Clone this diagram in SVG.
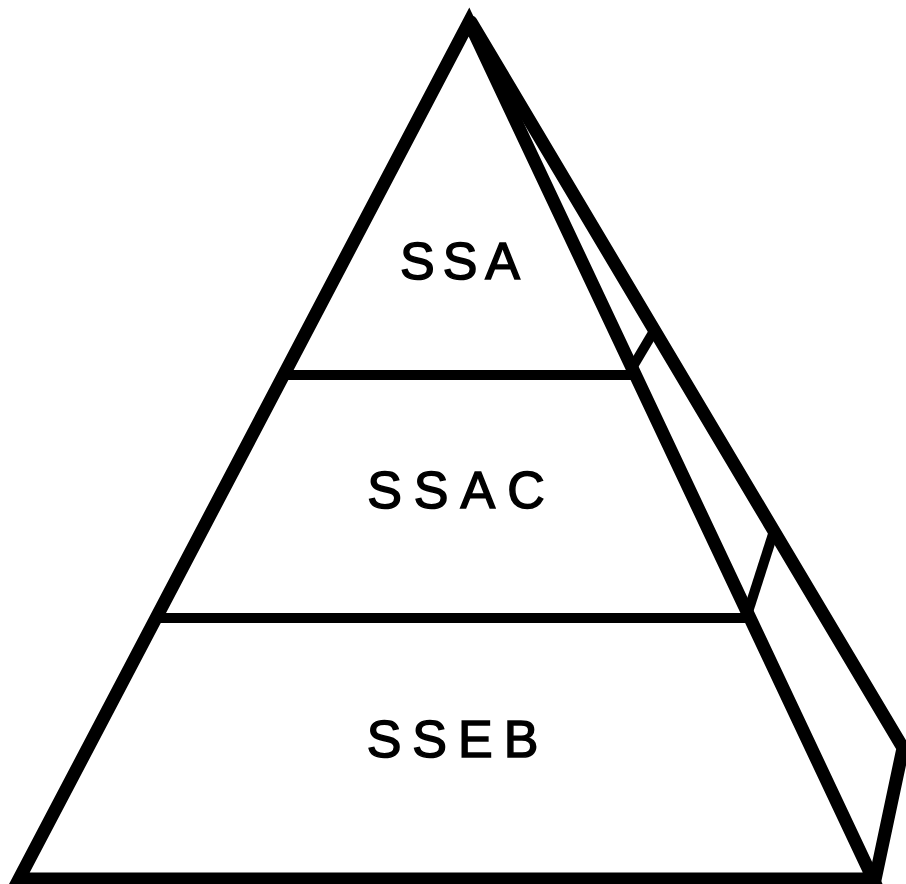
<svg xmlns="http://www.w3.org/2000/svg" width="906" height="884" viewBox="0 0 906 884">
<style>
.edge{fill:none;stroke:#000;stroke-width:13;stroke-linejoin:miter;stroke-linecap:round}
.band{fill:none;stroke:#000;stroke-width:10;stroke-linecap:butt}
.lbl{font-family:"Liberation Sans",Arial,sans-serif;font-size:52px;fill:#000;stroke:#000;stroke-width:1.5;text-anchor:middle}
</style>
<rect width="906" height="884" fill="#fff"/>
<g id="connectors">
<path class="edge" d="M19,879 L469,22 L873,879 Z"/>
<path class="edge" d="M471,22 L903,748 L875,880"/>
<line class="band" x1="283" y1="375" x2="636" y2="375"/>
<line class="band" x1="155" y1="618" x2="750" y2="618"/>
<line class="band" x1="632" y1="368" x2="654" y2="331"/>
<line class="band" x1="748" y1="612" x2="773" y2="534"/>
</g>
<g id="ssa"><text class="lbl" x="464" y="279" letter-spacing="8">SSA</text></g>
<g id="ssac"><text class="lbl" x="462" y="508" letter-spacing="12">SSAC</text></g>
<g id="sseb"><text class="lbl" x="458" y="757" font-size="55" letter-spacing="11">SSEB</text></g>
</svg>
